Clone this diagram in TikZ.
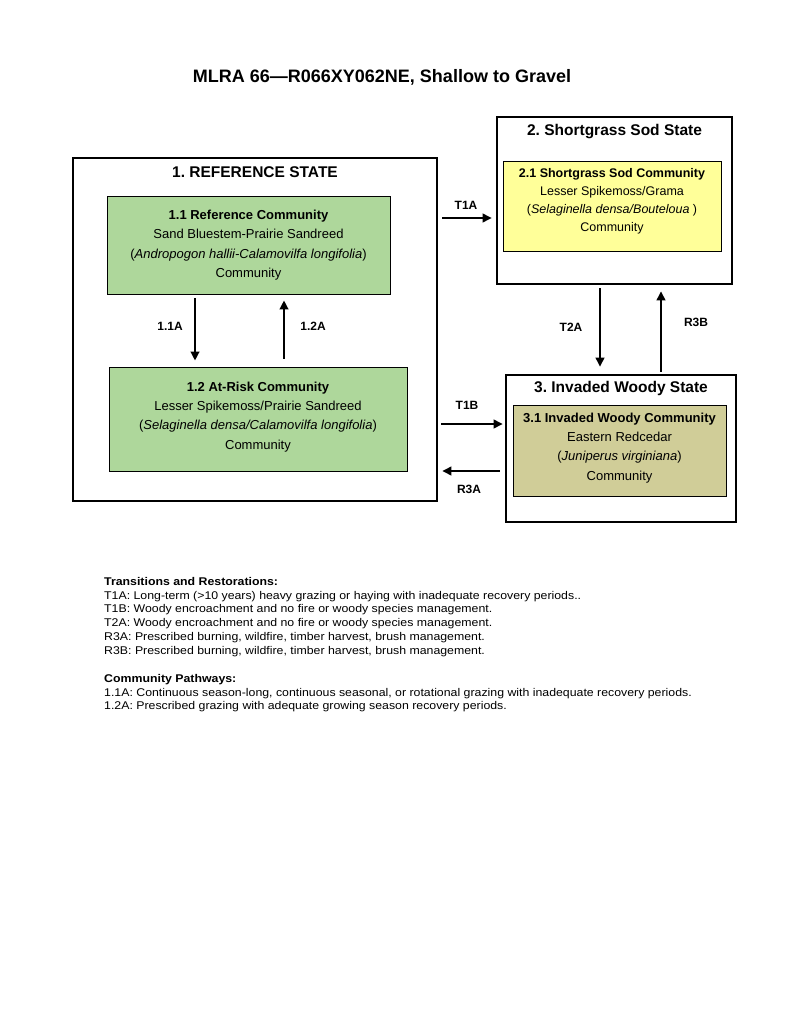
\documentclass[tikz,border=0pt]{standalone}
\usepackage{fontspec}
\setmainfont{Liberation Sans}
\newfontfamily\notefont[FakeStretch=1.1]{Liberation Sans}
\usepackage{tikz}
\usetikzlibrary{arrows.meta, positioning}

\definecolor{refgreen}{RGB}{174,215,155}
\definecolor{sodyellow}{RGB}{255,255,153}
\definecolor{woodyolive}{RGB}{208,205,152}

\begin{document}
\frenchspacing
\begin{tikzpicture}[
    x=1pt, y=-1pt,
    statebox/.style={draw, line width=2.6pt, minimum width=#1},
    commbox/.style={draw, line width=0.8pt, align=center, inner sep=0pt,
        font=\fontsize{13}{19.3}\selectfont},
    statetitle/.style={font=\fontsize{15.5}{18}\selectfont\bfseries},
    arrowlabel/.style={font=\fontsize{12}{14}\selectfont\bfseries},
    notes/.style={anchor=north west, align=left, inner sep=0pt,
        font=\notefont\fontsize{11.2}{13.75}\selectfont},
    arrow/.style={-{Triangle[length=9pt, width=8.5pt]}, line width=2.2pt}
]
\useasboundingbox[fill=white] (0,0) rectangle (800,1035);

% Title
\node[font=\fontsize{18}{22}\selectfont\bfseries] (title) at (382,77)
    {MLRA 66---R066XY062NE, Shallow to Gravel};

% States
\node[statebox=364pt, minimum height=343pt] (ref) at (255,329.5) {};
\node[statebox=235pt, minimum height=167pt] (sod) at (614.5,200.5) {};
\node[statebox=230pt, minimum height=147pt] (woody) at (621,448.5) {};

\node[statetitle] (reftitle) at (255,172) {1. REFERENCE STATE};
\node[statetitle] (sodtitle) at (614.5,132) {2. Shortgrass Sod State};
\node[statetitle] (woodytitle) at (621,388) {3. Invaded Woody State};

% Communities
\node[commbox, fill=refgreen, minimum width=283pt, minimum height=98pt] (c11) at (248.5,245)
    {\textbf{1.1 Reference Community}\\ Sand Bluestem-Prairie Sandreed\\
     (\textit{Andropogon hallii-Calamovilfa longifolia})\\ Community};
\node[commbox, fill=refgreen, minimum width=298pt, minimum height=104pt, text depth=7pt] (c12) at (258,419)
    {\textbf{1.2 At-Risk Community}\\ Lesser Spikemoss/Prairie Sandreed\\
     (\textit{Selaginella densa/Calamovilfa longifolia})\\ Community};
\node[commbox, fill=sodyellow, minimum width=218pt, minimum height=90pt, text depth=13pt,
    font=\fontsize{12.5}{18}\selectfont] (c21) at (612,206)
    {\textbf{2.1 Shortgrass Sod Community}\\ Lesser Spikemoss/Grama\\
     (\textit{Selaginella densa/Bouteloua} )\\ Community};
\node[commbox, fill=woodyolive, minimum width=213pt, minimum height=91pt, text depth=8pt] (c31) at (619.5,450.5)
    {\textbf{3.1 Invaded Woody Community}\\ Eastern Redcedar\\
     (\textit{Juniperus virginiana})\\ Community};

% Arrow positions
\coordinate (p11) at (195,0);
\coordinate (p12) at (284,0);
\coordinate (pt2a) at (600,0);
\coordinate (pr3b) at (661,0);
\coordinate (pt1a) at (0,218);
\coordinate (pt1b) at (0,424);
\coordinate (pr3a) at (0,471);

% Edges
\draw[arrow, shorten <=4pt, shorten >=6pt] (c11.south -| p11) -- (c12.north -| p11);
\draw[arrow, shorten <=8pt, shorten >=6pt] (c12.north -| p12) -- (c11.south -| p12);
\draw[arrow, shorten <=4pt, shorten >=4pt] (ref.east |- pt1a) -- (sod.west |- pt1a);
\draw[arrow, shorten <=3pt, shorten >=2pt] (ref.east |- pt1b) -- (woody.west |- pt1b);
\draw[arrow, shorten <=5pt, shorten >=4pt] (woody.west |- pr3a) -- (ref.east |- pr3a);
\draw[arrow, shorten <=3pt, shorten >=7pt] (sod.south -| pt2a) -- (woody.north -| pt2a);
\draw[arrow, shorten <=2pt, shorten >=6pt] (woody.north -| pr3b) -- (sod.south -| pr3b);

% Labels
\node[arrowlabel] (l11) at (170,326) {1.1A};
\node[arrowlabel] (l12) at (313,326) {1.2A};
\node[arrowlabel] (lt1a) at (466,205) {T1A};
\node[arrowlabel] (lt1b) at (467,405) {T1B};
\node[arrowlabel] (lr3a) at (469,489) {R3A};
\node[arrowlabel] (lt2a) at (571,327) {T2A};
\node[arrowlabel] (lr3b) at (696,322) {R3B};

% Notes
\node[notes] (trans) at (104,577)
    {\textbf{Transitions and Restorations:}\\
     T1A: Long-term (>10 years) heavy grazing or haying with inadequate recovery periods..\\
     T1B: Woody encroachment and no fire or woody species management.\\
     T2A: Woody encroachment and no fire or woody species management.\\
     R3A: Prescribed burning, wildfire, timber harvest, brush management.\\
     R3B: Prescribed burning, wildfire, timber harvest, brush management.};
\node[notes] (paths) at (104,674)
    {\textbf{Community Pathways:}\\
     1.1A: Continuous season-long, continuous seasonal, or rotational grazing with inadequate recovery periods.\\
     1.2A: Prescribed grazing with adequate growing season recovery periods.};

\end{tikzpicture}
\end{document}
